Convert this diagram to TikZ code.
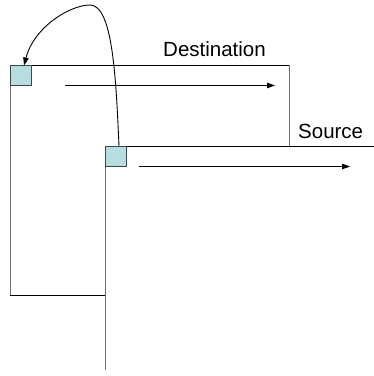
\documentclass[tikz,border=0pt]{standalone}
\usepackage{fontspec}
\setmainfont{Liberation Sans}
\usetikzlibrary{arrows.meta}
\definecolor{sqfill}{HTML}{B7DDE0}
\definecolor{sqedge}{HTML}{3A4A4C}
\definecolor{edgegrey}{HTML}{707070}
\begin{document}
\begin{tikzpicture}[x=1pt,y=-1pt,
  sq/.style={draw=sqedge,fill=sqfill,line width=1pt,minimum width=21pt,minimum height=20pt,inner sep=0pt,outer sep=0pt},
  blk/.style={draw=black,line width=1pt},
  gry/.style={draw=edgegrey,line width=1.4pt},
  flow/.style={draw=black,line width=0.9pt,-{Triangle[length=8pt,width=5.5pt]}},
  lbl/.style={anchor=base west,inner sep=0pt,font=\fontsize{20.5}{24}\selectfont}]
\useasboundingbox (0,0) rectangle (374,376);
% corner coordinates
\coordinate (dtl) at (10.5,65);
\coordinate (dtr) at (289,65);
\coordinate (dbr) at (289,146);
\coordinate (dbl) at (10.5,295);
\coordinate (dbm) at (105.5,295);
\coordinate (stl) at (105.5,146);
\coordinate (str) at (374,146);
\coordinate (sbl) at (105.5,370);
% destination outline
\draw[gry] (dtl) -- (dbl);
\draw[blk] (dbl) -- (dbm);
\draw[blk] (dtl) -- (dtr);
\draw[gry,line width=1pt] (dtr) -- (dbr);
% source outline
\draw[gry] (stl) -- (sbl);
\draw[blk] (stl) -- (str);
% squares
\node[sq] (dsq) at (21,75.5) {};
\node[sq] (ssq) at (116,156) {};
% labels
\node[lbl] (dlab) at (163,56) {Destination};
\node[lbl] (slab) at (298,138) {Source};
% flow arrows
\coordinate (da0) at (65,85.5);
\coordinate (da1) at (275,85.5);
\coordinate (sa0) at (139,166.5);
\coordinate (sa1) at (350,166.5);
\draw[flow] (da0) -- (da1);
\draw[flow] (sa0) -- (sa1);
% copy curve
\coordinate (peak) at (90,5);
\draw[draw=black,line width=0.9pt,-{Triangle[length=8pt,width=5.5pt]}]
  ([xshift=3pt]ssq.north) .. controls (116,80) and (113,5) .. (peak)
  .. controls (70,5) and (34,27) .. ([xshift=3pt]dsq.north);
\end{tikzpicture}
\end{document}
